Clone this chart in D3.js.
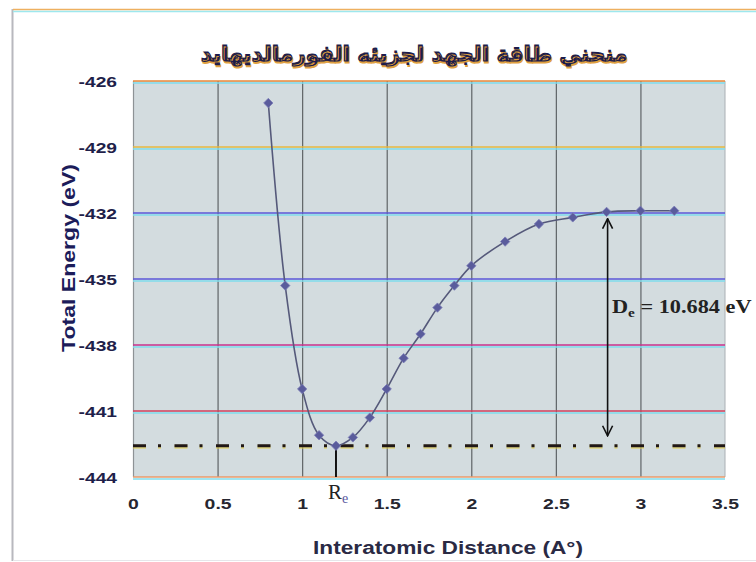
<!DOCTYPE html>
<html>
<head>
<meta charset="utf-8">
<script src="https://cdn.jsdelivr.net/npm/d3@7"></script>
<style>
  html, body { margin: 0; padding: 0; background: #ffffff; }
  svg { display: block; }
</style>
</head>
<body>
<svg id="chart" width="756" height="562"></svg>
<script>
// Potential energy curve of formaldehyde: total energy vs interatomic distance
const distances = [0.8, 0.9, 1.0, 1.1, 1.2, 1.3, 1.4, 1.5, 1.6, 1.7, 1.8, 1.9, 2.0, 2.2, 2.4, 2.6, 2.8, 3.0, 3.2];
const energies  = [-427.0, -435.3, -440.0, -442.1, -442.58, -442.2, -441.3, -440.0, -438.6, -437.5, -436.3, -435.3, -434.4, -433.3, -432.5, -432.2, -431.95, -431.9, -431.9];
const xTicks = [0, 0.5, 1, 1.5, 2, 2.5, 3, 3.5];
const yTicks = [-426, -429, -432, -435, -438, -441, -444];
const gridColors = ["#e8883a", "#e6b840", "#5b58d8", "#5b58d8", "#c8328c", "#d2405c", "#e89a6a"];
const bindingEnergy = 10.684;
const equilibriumR = 1.2;
const titleText = "منحني طاقة الجهد لجزيئه الفورمالديهايد";

const svg = d3.select("#chart");
const plot = { left: 133, right: 725, top: 81, bottom: 477 };

const x = d3.scaleLinear().domain([0, 3.5]).range([plot.left, plot.right]);
const y = d3.scaleLinear().domain([-444, -426]).range([plot.bottom, plot.top]);

// widen a text element along its baseline by a factor
function widen(sel, factor) {
  sel.each(function () {
    const w = this.getComputedTextLength();
    if (w > 0) d3.select(this).attr("textLength", w * factor).attr("lengthAdjust", "spacingAndGlyphs");
  });
}

// outer frame
svg.append("line").attr("x1", 12.5).attr("x2", 12.5).attr("y1", 9).attr("y2", 561)
  .attr("stroke", "#b8b8be").attr("stroke-width", 2);
svg.append("line").attr("x1", 13).attr("x2", 756).attr("y1", 560.5).attr("y2", 560.5)
  .attr("stroke", "#e6e6ea").attr("stroke-width", 1);
svg.append("line").attr("x1", 13).attr("x2", 756).attr("y1", 9.5).attr("y2", 9.5)
  .attr("stroke", "#eeb060").attr("stroke-width", 1.5);
svg.append("line").attr("x1", 13).attr("x2", 756).attr("y1", 11.5).attr("y2", 11.5)
  .attr("stroke", "#9ee8ee").attr("stroke-width", 1.5);

// plot background
svg.append("rect").attr("x", plot.left).attr("y", plot.top)
  .attr("width", plot.right - plot.left).attr("height", plot.bottom - plot.top)
  .attr("fill", "#d3dcdf");

// vertical gridlines
svg.append("g").selectAll("line").data(xTicks.slice(0, -1)).join("line")
  .attr("x1", d => x(d) + 0.5).attr("x2", d => x(d) + 0.5)
  .attr("y1", plot.top).attr("y2", plot.bottom)
  .attr("stroke", d => d === 0 ? "#8e9396" : "#5f6467").attr("stroke-width", 1.2);
svg.append("line").attr("x1", plot.right).attr("x2", plot.right)
  .attr("y1", plot.top).attr("y2", plot.bottom)
  .attr("stroke", "#aab0b4").attr("stroke-width", 1);

// horizontal gridlines with a light cyan companion line
const hg = svg.append("g");
hg.selectAll("line.c").data(yTicks).join("line").attr("class", "c")
  .attr("x1", plot.left).attr("x2", plot.right)
  .attr("y1", d => y(d) + 2).attr("y2", d => y(d) + 2)
  .attr("stroke", "#7fdcec").attr("stroke-width", 1.4);
hg.selectAll("line.m").data(yTicks).join("line").attr("class", "m")
  .attr("x1", plot.left).attr("x2", plot.right)
  .attr("y1", d => y(d)).attr("y2", d => y(d))
  .attr("stroke", (d, i) => gridColors[i]).attr("stroke-width", 1.6);

// y axis labels
const yAxis = d3.axisLeft(y).tickValues(yTicks).tickSize(0).tickPadding(0)
  .tickFormat(d => String(d).replace("\u2212", "-"));
const yg = svg.append("g").attr("transform", `translate(117,0)`).call(yAxis);
yg.select(".domain").remove();
yg.selectAll("text").attr("font-family", "Liberation Sans, Arial, sans-serif")
  .attr("font-weight", "bold").attr("font-size", 15).attr("fill", "#1f1f4a")
  .attr("dy", "0.36em").call(widen, 1.28);

// x axis labels
const xAxis = d3.axisBottom(x).tickValues(xTicks).tickSize(0).tickPadding(0)
  .tickFormat(d3.format("~g"));
const xg = svg.append("g").attr("transform", `translate(0,498)`).call(xAxis);
xg.select(".domain").remove();
xg.selectAll("text").attr("font-family", "Liberation Sans, Arial, sans-serif")
  .attr("font-weight", "bold").attr("font-size", 15.5).attr("fill", "#262630")
  .attr("dy", "0.71em").call(widen, 1.25);

// equilibrium dash-dot reference line at the minimum energy
const minE = d3.min(energies);
svg.append("line").attr("x1", plot.left).attr("x2", plot.right)
  .attr("y1", y(minE) + 1).attr("y2", y(minE) + 1)
  .attr("stroke", "#e8d040").attr("stroke-width", 4).attr("stroke-dasharray", "13 12 3 13.5").attr("opacity", 0.6);
svg.append("line").attr("x1", plot.left).attr("x2", plot.right)
  .attr("y1", y(minE)).attr("y2", y(minE))
  .attr("stroke", "#201818").attr("stroke-width", 3).attr("stroke-dasharray", "13 12 3 13.5");

// Re marker
svg.append("line").attr("x1", x(equilibriumR)).attr("x2", x(equilibriumR))
  .attr("y1", y(minE)).attr("y2", plot.bottom)
  .attr("stroke", "#111").attr("stroke-width", 2);
const re = svg.append("text").attr("x", x(equilibriumR) - 8).attr("y", 499)
  .attr("font-family", "Liberation Serif, Times New Roman, serif").attr("font-size", 21).attr("fill", "#222");
re.append("tspan").text("R");
re.append("tspan").attr("font-size", 14).attr("dy", 4).attr("fill", "#5a5aa0").text("e");

// curve
const pts = distances.map((d, i) => [d, energies[i]]);
svg.append("path").datum(pts)
  .attr("d", d3.line().x(d => x(d[0])).y(d => y(d[1])).curve(d3.curveCatmullRom.alpha(0.5)))
  .attr("fill", "none").attr("stroke", "#55597a").attr("stroke-width", 1.6);
svg.append("g").selectAll("path").data(pts).join("path")
  .attr("transform", d => `translate(${x(d[0])},${y(d[1])})`)
  .attr("d", d3.symbol(d3.symbolDiamond2, 56))
  .attr("fill", "#5a5c9c").attr("stroke", "#7c7eb8").attr("stroke-width", 0.8);

// binding energy double arrow
const defs = svg.append("defs");
defs.append("marker").attr("id", "head").attr("viewBox", "0 0 12 12")
  .attr("refX", 11).attr("refY", 6).attr("markerWidth", 12).attr("markerHeight", 12)
  .attr("markerUnits", "userSpaceOnUse").attr("orient", "auto-start-reverse")
  .append("path").attr("d", "M1,1 L11,6 L1,11").attr("fill", "none")
  .attr("stroke", "#111").attr("stroke-width", 1.6);
const ax = x(2.8) + 1;
svg.append("line").attr("x1", ax).attr("x2", ax)
  .attr("y1", y(minE + bindingEnergy) + 8).attr("y2", y(minE) - 10)
  .attr("stroke", "#111").attr("stroke-width", 1.6)
  .attr("marker-start", "url(#head)").attr("marker-end", "url(#head)");

const deG = svg.append("g").attr("transform", "translate(612,313)");
const de = deG.append("text")
  .attr("font-family", "Liberation Serif, Times New Roman, serif").attr("font-weight", "bold")
  .attr("font-size", 19).attr("fill", "#222");
de.append("tspan").text("D");
de.append("tspan").attr("font-size", 13).attr("dy", 4).text("e");
de.append("tspan").attr("dy", -4).text(" = " + bindingEnergy + " eV");
const deW = de.node().getBBox().width;
if (deW > 0) deG.attr("transform", `translate(612,313) scale(${140 / deW},1)`);

// title
const title = svg.append("text").attr("x", 414).attr("y", 61).attr("text-anchor", "middle")
  .attr("direction", "rtl")
  .attr("font-family", "DejaVu Sans, sans-serif").attr("font-weight", "bold")
  .attr("font-size", 24).attr("fill", "#1c1c4a")
  .attr("stroke", "#1c1c4a").attr("stroke-width", 1.1)
  .style("text-shadow", "1px 1.5px 0 #e0a040")
  .text(titleText);
const tw = title.node().getComputedTextLength();
if (tw > 0) title.attr("font-size", 24 * 427 / tw);

// axis titles
const xt = svg.append("text").attr("x", 448).attr("y", 554).attr("text-anchor", "middle")
  .attr("font-family", "Liberation Sans, Arial, sans-serif").attr("font-weight", "bold")
  .attr("font-size", 18).attr("fill", "#2a2a44")
  .text("Interatomic Distance (A°)");
xt.attr("textLength", 270).attr("lengthAdjust", "spacingAndGlyphs");
const yt = svg.append("text").attr("transform", "translate(75,258) rotate(-90)").attr("text-anchor", "middle")
  .attr("font-family", "Liberation Sans, Arial, sans-serif").attr("font-weight", "bold")
  .attr("font-size", 18).attr("fill", "#1c1c5a")
  .text("Total Energy (eV)");
yt.attr("textLength", 188).attr("lengthAdjust", "spacingAndGlyphs");
</script>
</body>
</html>
